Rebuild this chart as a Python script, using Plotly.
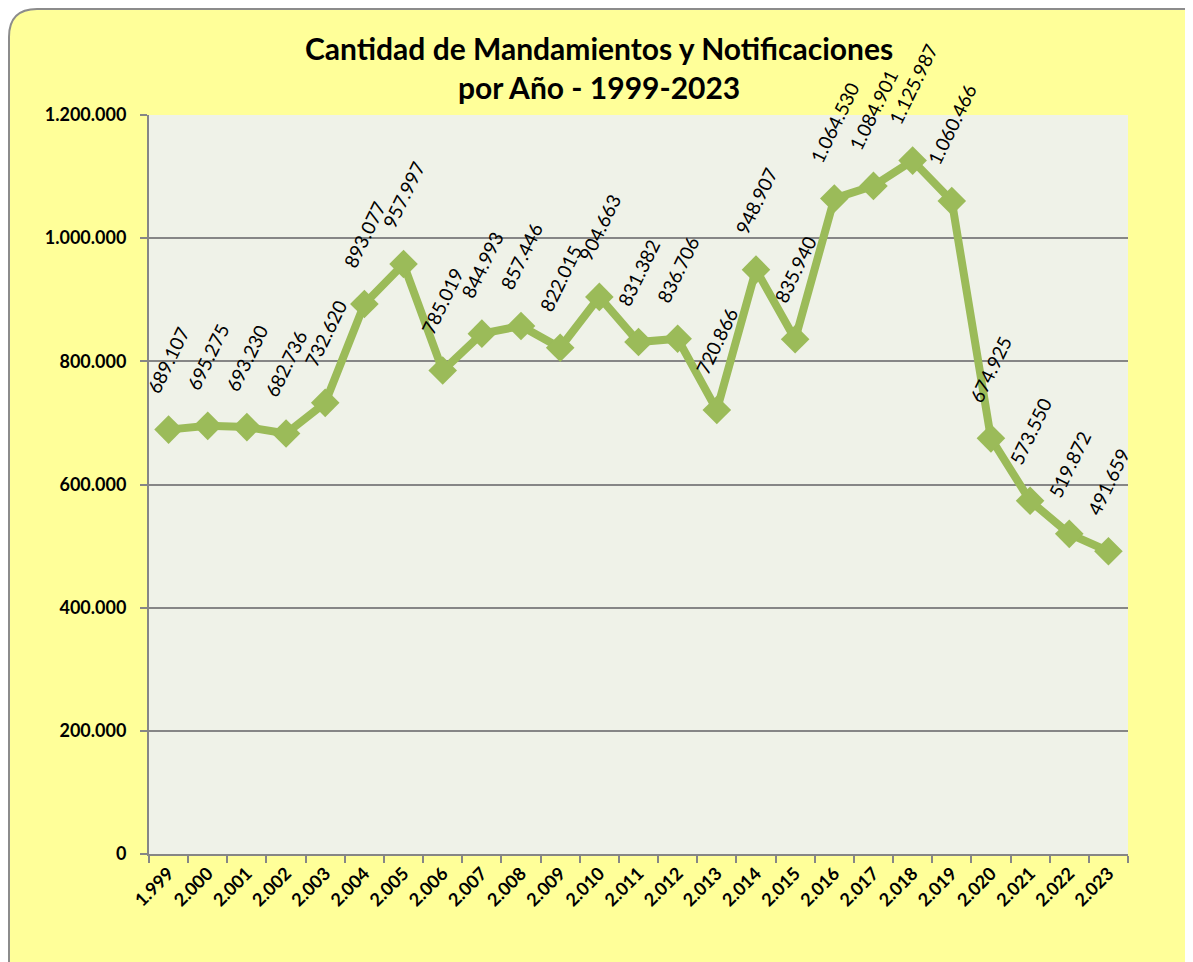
import plotly.graph_objects as go

years = ["1.999", "2.000", "2.001", "2.002", "2.003", "2.004", "2.005", "2.006", "2.007",
         "2.008", "2.009", "2.010", "2.011", "2.012", "2.013", "2.014", "2.015", "2.016",
         "2.017", "2.018", "2.019", "2.020", "2.021", "2.022", "2.023"]
values = [689107, 695275, 693230, 682736, 732620, 893077, 957997, 785019, 844993,
          857446, 822015, 904663, 831382, 836706, 720866, 948907, 835940, 1064530,
          1084901, 1125987, 1060466, 674925, 573550, 519872, 491659]
y_ticks = [0, 200000, 400000, 600000, 800000, 1000000, 1200000]

OFF = 8  # body margin of the page
W, H = 1193 - OFF, 962 - OFF
L, R, T, B = 149 - OFF, 65, 115 - OFF, 108
PW, PH = W - L - R, H - T - B

def fmt(v):
    return f"{v:,}".replace(",", ".")

GREEN = "#9BBB59"
GRAY = "#868686"
FONT = "Lato"

def px(x):
    return (x - OFF - L) / PW

def py(y):
    return 1 - (y - OFF - T) / PH

idx = list(range(len(years)))

fig = go.Figure()
fig.add_trace(go.Scatter(
    x=idx, y=values, mode="lines+markers",
    line=dict(color=GREEN, width=8),
    marker=dict(symbol="diamond", size=22, color=GREEN),
    cliponaxis=False, hoverinfo="y",
))

annotations = []
for i, v in zip(idx, values):
    annotations.append(dict(
        x=i, y=v, xref="x", yref="y", text=fmt(v), showarrow=False,
        textangle=-64, xanchor="center", yanchor="bottom", yshift=30,
        font=dict(family=FONT, size=19, color="black"),
    ))

annotations.append(dict(
    x=px(599), y=py(68), xref="paper", yref="paper", xanchor="center", yanchor="middle",
    showarrow=False, align="center",
    text="<b>Cantidad de Mandamientos y Notificaciones<br>por Año - 1999-2023</b>",
    font=dict(family=FONT, size=30, color="black"),
))

x0, x1, y0, y1, r = OFF + 1, 1230, OFF + 1, 1000, 28
box = (f"M {px(x0 + r)},{py(y0)} L {px(x1 - r)},{py(y0)} "
       f"Q {px(x1)},{py(y0)} {px(x1)},{py(y0 + r)} L {px(x1)},{py(y1 - r)} "
       f"Q {px(x1)},{py(y1)} {px(x1 - r)},{py(y1)} L {px(x0 + r)},{py(y1)} "
       f"Q {px(x0)},{py(y1)} {px(x0)},{py(y1 - r)} L {px(x0)},{py(y0 + r)} "
       f"Q {px(x0)},{py(y0)} {px(x0 + r)},{py(y0)} Z")

fig.update_layout(
    width=W, height=H,
    margin=dict(l=L, r=R, t=T, b=B, pad=0),
    paper_bgcolor="white",
    plot_bgcolor="#EFF2E8",
    separators=",.",
    showlegend=False,
    annotations=annotations,
    shapes=[
        dict(type="path", path=box, xref="paper", yref="paper",
             fillcolor="#FFFF99", line=dict(color="#8C8C8C", width=2), layer="below"),
        dict(type="rect", x0=0, x1=1, y0=0, y1=1, xref="paper", yref="paper",
             fillcolor="#EFF2E8", line=dict(width=0), layer="below"),
    ],
    xaxis=dict(
        tickmode="array", tickvals=idx, ticktext=years,
        ticks="", showline=True, linecolor=GRAY, linewidth=2,
        showgrid=False, tickangle=-45, zeroline=False,
        tickfont=dict(family=FONT, size=18, color="black", weight="bold"),
        range=[-0.5, len(years) - 0.5],
        minor=dict(tickmode="array", tickvals=[i - 0.5 for i in idx] + [len(idx) - 0.5],
                   ticks="outside", ticklen=7, tickcolor=GRAY, tickwidth=2, showgrid=False),
    ),
    yaxis=dict(
        range=[0, 1200000], tickvals=y_ticks, tickformat=",d",
        ticks="outside", ticklen=7, tickcolor=GRAY, tickwidth=2,
        showline=True, linecolor=GRAY, linewidth=2,
        showgrid=True, gridcolor=GRAY, gridwidth=1.5, zeroline=False,
        tickfont=dict(family=FONT, size=18, color="black", weight="bold"),
        ticklabelstandoff=10,
    ),
)

fig.write_html("out.html")
